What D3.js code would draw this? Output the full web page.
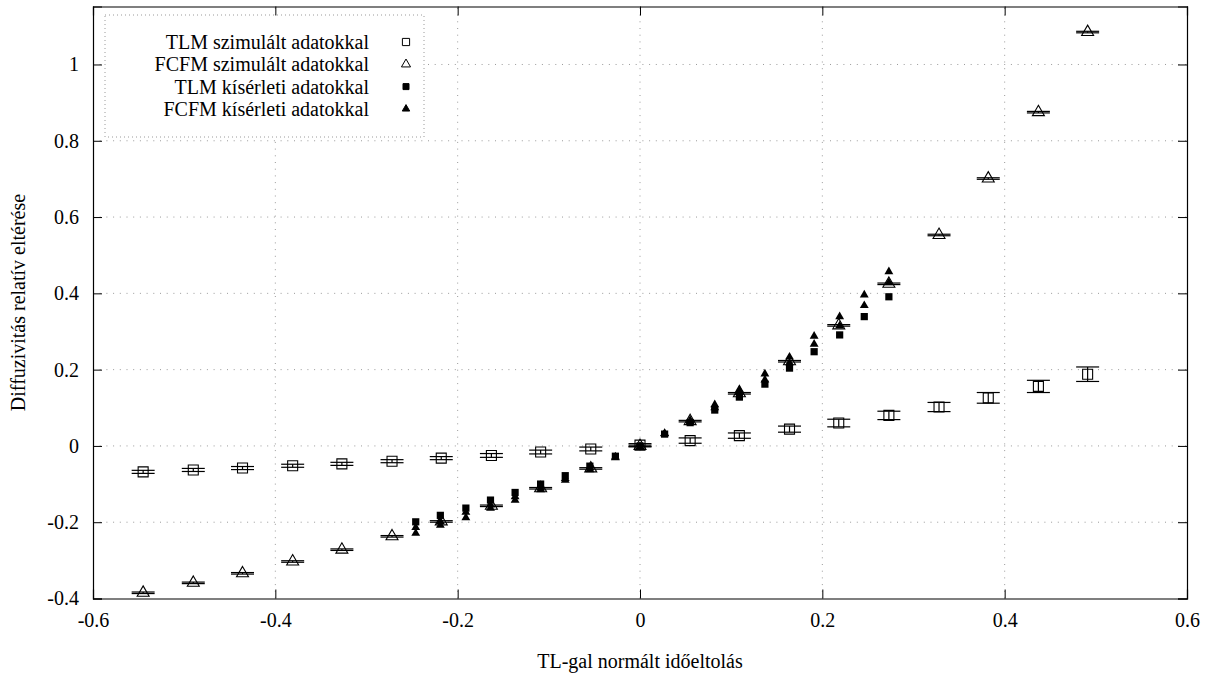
<!DOCTYPE html>
<html>
<head>
<meta charset="utf-8">
<script src="https://cdn.jsdelivr.net/npm/d3@7"></script>
<style>
  body { margin: 0; background: #fff; }
  svg text { font-family: "Liberation Serif", "Times New Roman", serif; fill: #000; }
</style>
</head>
<body>
<div id="chart"></div>
<script>
// simulated runs (same x for both models)
const xSim = [-0.545, -0.490, -0.436, -0.381, -0.327, -0.272, -0.218, -0.163, -0.109, -0.054,
  0, 0.055, 0.109, 0.164, 0.218, 0.273, 0.328, 0.382, 0.437, 0.491];
const tlmSim = [-0.068, -0.063, -0.058, -0.052, -0.047, -0.040, -0.032, -0.025, -0.016, -0.008,
  0.002, 0.014, 0.027, 0.044, 0.060, 0.080, 0.102, 0.126, 0.156, 0.188];
const tlmSimErr = [0.004, 0.004, 0.004, 0.004, 0.004, 0.004, 0.004, 0.005, 0.005, 0.005,
  0.004, 0.007, 0.007, 0.008, 0.010, 0.011, 0.012, 0.014, 0.016, 0.019];
const fcfmSim = [-0.385, -0.359, -0.334, -0.303, -0.272, -0.237, -0.198, -0.157, -0.111, -0.059,
  0.0, 0.065, 0.138, 0.222, 0.316, 0.425, 0.553, 0.701, 0.875, 1.085];
const fcfmSimErr = [0.002, 0.002, 0.002, 0.002, 0.002, 0.002, 0.002, 0.002, 0.002, 0.002,
  0.002, 0.002, 0.002, 0.002, 0.002, 0.002, 0.002, 0.002, 0.002, 0.002];

// experimental runs
const xExp = [-0.246, -0.219, -0.191, -0.164, -0.137, -0.109, -0.082, -0.055, -0.027, 0,
  0.027, 0.055, 0.082, 0.109, 0.137, 0.164, 0.191, 0.219, 0.246, 0.273];
const tlmExp = [-0.199, -0.182, -0.163, -0.142, -0.122, -0.100, -0.078, -0.053, -0.027, 0.0,
  0.031, 0.061, 0.094, 0.128, 0.162, 0.204, 0.247, 0.291, 0.339, 0.391];
const fcfmExpA = [-0.214, -0.198, -0.174, -0.155, -0.133, -0.110, -0.085, -0.058, -0.029, -0.002,
  0.032, 0.064, 0.100, 0.140, 0.173, 0.218, 0.267, 0.315, 0.368, 0.428];
const fcfmExpB = [-0.229, -0.208, -0.188, -0.163, -0.142, -0.115, -0.090, -0.062, -0.031, -0.003,
  0.033, 0.067, 0.108, 0.148, 0.189, 0.233, 0.288, 0.339, 0.396, 0.457];

const xTicks = [-0.6, -0.4, -0.2, 0, 0.2, 0.4, 0.6];
const yTicks = [-0.4, -0.2, 0, 0.2, 0.4, 0.6, 0.8, 1];
const legendLabels = [
  "TLM szimulált adatokkal",
  "FCFM szimulált adatokkal",
  "TLM kísérleti adatokkal",
  "FCFM kísérleti adatokkal"
];

const W = 1210, H = 675;
const margin = { top: 6.5, right: 23, bottom: 76.5, left: 93 };
const serif = "'Liberation Serif', 'Times New Roman', serif";

const svg = d3.select("#chart").append("svg")
  .attr("width", W)
  .attr("height", H);

const x = d3.scaleLinear().domain([-0.6, 0.6]).range([margin.left, W - margin.right]);
const y = d3.scaleLinear().domain([-0.4, 1.152]).range([H - margin.bottom, margin.top]);

const fmt = (d) => (d === 0 ? "0" : String(d));

// grid
const grid = svg.append("g").attr("stroke", "#9a9a9a").attr("stroke-width", 1)
  .attr("stroke-dasharray", "1,5.7");
grid.selectAll(".gx").data(xTicks.slice(1, -1)).join("line")
  .attr("x1", (d) => x(d)).attr("x2", (d) => x(d))
  .attr("y1", y.range()[0]).attr("y2", y.range()[1]);
grid.selectAll(".gy").data(yTicks.slice(1)).join("line")
  .attr("y1", (d) => y(d)).attr("y2", (d) => y(d))
  .attr("x1", x.range()[0]).attr("x2", x.range()[1]);

// legend box (covers the grid)
const legend = svg.append("g");
legend.append("rect")
  .attr("x", 105).attr("y", 15).attr("width", 319).attr("height", 122)
  .attr("fill", "#fff").attr("stroke", "#9a9a9a").attr("stroke-dasharray", "1,3");

const sym = (type, size) => d3.symbol().type(type).size(size)();

// error bars for the simulated series
const capW = 11.5;
const errGroup = (vals, errs, cls) => {
  const g = svg.append("g").attr("class", cls).attr("stroke", "#000").attr("stroke-width", 1.2);
  xSim.forEach((xv, i) => {
    const y1 = y(vals[i] + errs[i]), y0 = y(vals[i] - errs[i]);
    g.append("line").attr("x1", x(xv)).attr("x2", x(xv)).attr("y1", y1).attr("y2", y0);
    g.append("line").attr("x1", x(xv) - capW).attr("x2", x(xv) + capW).attr("y1", y1).attr("y2", y1);
    g.append("line").attr("x1", x(xv) - capW).attr("x2", x(xv) + capW).attr("y1", y0).attr("y2", y0);
  });
};
errGroup(tlmSim, tlmSimErr, "tlm-err");
errGroup(fcfmSim, fcfmSimErr, "fcfm-err");

svg.append("g").selectAll("path").data(xSim).join("path")
  .attr("d", sym(d3.symbolSquare, 100))
  .attr("transform", (d, i) => `translate(${x(d)},${y(tlmSim[i])})`)
  .attr("fill", "none").attr("stroke", "#000").attr("stroke-width", 1.1);

svg.append("g").selectAll("path").data(xSim).join("path")
  .attr("d", sym(d3.symbolTriangle, 62))
  .attr("transform", (d, i) => `translate(${x(d)},${y(fcfmSim[i])})`)
  .attr("fill", "none").attr("stroke", "#000").attr("stroke-width", 1.1);

// experimental points
svg.append("g").selectAll("path").data(xExp).join("path")
  .attr("d", sym(d3.symbolSquare, 52))
  .attr("transform", (d, i) => `translate(${x(d)},${y(tlmExp[i])})`)
  .attr("fill", "#000");

[fcfmExpA, fcfmExpB].forEach((vals) => {
  svg.append("g").selectAll("path").data(xExp).join("path")
    .attr("d", sym(d3.symbolTriangle, 34))
    .attr("transform", (d, i) => `translate(${x(d)},${y(vals[i])})`)
    .attr("fill", "#000");
});

// legend rows
const legendSyms = [
  { type: d3.symbolSquare, size: 52, fill: "none" },
  { type: d3.symbolTriangle, size: 36, fill: "none" },
  { type: d3.symbolSquare, size: 36, fill: "#000" },
  { type: d3.symbolTriangle, size: 24, fill: "#000" }
];
legendLabels.forEach((label, i) => {
  const ly = 42 + i * 22.3;
  legend.append("text")
    .attr("x", 369).attr("y", ly).attr("dy", "0.35em")
    .attr("text-anchor", "end")
    .style("font-family", serif).style("font-size", "20px")
    .text(label);
  legend.append("path")
    .attr("d", sym(legendSyms[i].type, legendSyms[i].size))
    .attr("transform", `translate(406,${ly})`)
    .attr("fill", legendSyms[i].fill)
    .attr("stroke", "#000").attr("stroke-width", 1);
});

// frame + ticks on all sides
const tickLen = 9;
svg.append("g").attr("transform", `translate(0,${y.range()[0]})`)
  .call(d3.axisBottom(x).tickValues(xTicks).tickSize(-tickLen).tickPadding(tickLen + 5).tickFormat(fmt));
svg.append("g").attr("transform", `translate(0,${y.range()[1]})`)
  .call(d3.axisTop(x).tickValues(xTicks).tickSize(-tickLen).tickFormat(""));
svg.append("g").attr("transform", `translate(${x.range()[0]},0)`)
  .call(d3.axisLeft(y).tickValues(yTicks).tickSize(-tickLen).tickPadding(tickLen + 5).tickFormat(fmt));
svg.append("g").attr("transform", `translate(${x.range()[1]},0)`)
  .call(d3.axisRight(y).tickValues(yTicks).tickSize(-tickLen).tickFormat(""));

svg.selectAll(".domain").attr("stroke", "#000").attr("stroke-width", 1.2);
svg.selectAll(".tick line").attr("stroke", "#000");
svg.selectAll(".tick text")
  .style("font-family", serif)
  .style("font-size", "20px");

// axis titles
svg.append("text")
  .attr("x", (x.range()[0] + x.range()[1]) / 2)
  .attr("y", 668)
  .attr("text-anchor", "middle")
  .style("font-family", serif).style("font-size", "20px")
  .text("TL-gal normált időeltolás");

svg.append("text")
  .attr("transform", `translate(25,${(y.range()[0] + y.range()[1]) / 2}) rotate(-90)`)
  .attr("text-anchor", "middle")
  .style("font-family", serif).style("font-size", "20px")
  .text("Diffuzivitás relatív eltérése");
</script>
</body>
</html>
